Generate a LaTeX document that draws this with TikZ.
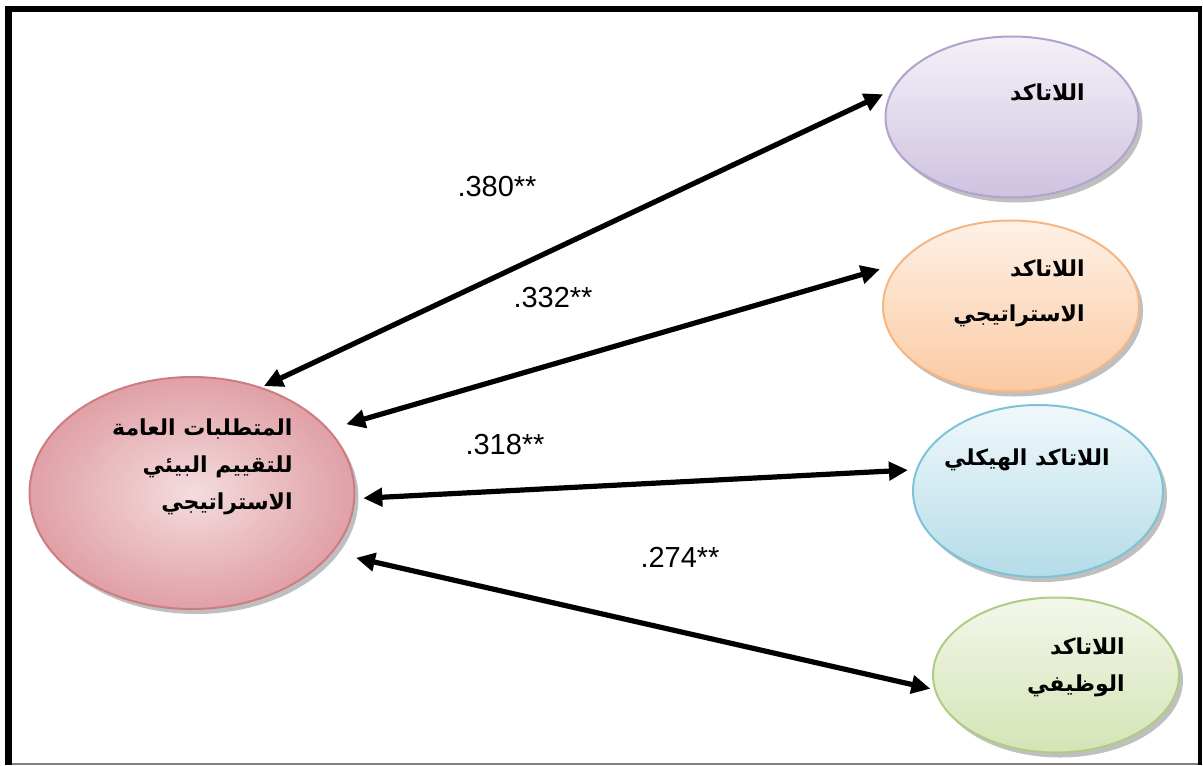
\documentclass[tikz,border=0pt]{standalone}
\usepackage{fontspec}
\setmainfont{Liberation Sans}
\newfontfamily\arabicfont[Script=Arabic]{DejaVu Sans}
\TeXXeTstate=1
\usetikzlibrary{positioning}
\usetikzlibrary{calc}
\usetikzlibrary{shapes.geometric}
\usetikzlibrary{shadows}
\usetikzlibrary{arrows.meta}
\usepackage{color}
\definecolor{pinkline}{RGB}{205,125,130}
\definecolor{pinkdark}{RGB}{224,160,166}
\definecolor{pinklight}{RGB}{244,220,222}
\definecolor{purpleline}{RGB}{178,162,205}
\definecolor{purpletop}{RGB}{244,241,248}
\definecolor{purplebottom}{RGB}{206,194,224}
\definecolor{orangeline}{RGB}{246,182,132}
\definecolor{orangetop}{RGB}{254,241,230}
\definecolor{orangebottom}{RGB}{250,202,162}
\definecolor{blueline}{RGB}{125,195,215}
\definecolor{bluetop}{RGB}{240,248,251}
\definecolor{bluebottom}{RGB}{180,220,232}
\definecolor{greenline}{RGB}{175,205,130}
\definecolor{greentop}{RGB}{243,247,234}
\definecolor{greenbottom}{RGB}{212,228,182}
\newcommand{\rl}[1]{\beginR #1\endR}
\newcommand{\coefsize}{\fontsize{14.5}{17}\selectfont}
\tikzset{
    oval/.style={ellipse, draw, line width=1pt, inner sep=0pt, outer sep=0pt,
        drop shadow={shadow xshift=2pt, shadow yshift=-2.5pt, opacity=.5}},
    general/.style={oval, draw=pinkline, inner color=pinklight, outer color=pinkdark,
        minimum width=162.5pt, minimum height=116pt},
    kind/.style args={#1/#2/#3}{oval, draw=#1, top color=#2, bottom color=#3},
    ar/.style={anchor=east, align=right, inner sep=0pt, font=\arabicfont\bfseries\fontsize{11}{18.5}\selectfont},
    coef/.style={font=\coefsize},
    link/.style={{Triangle[length=9.5pt,width=9pt]}-{Triangle[length=9.5pt,width=9pt]}, line width=2.6pt},
}

\begin{document}
\begin{tikzpicture}[x=0.5pt, y=-0.5pt]
    \useasboundingbox (0,0) rectangle (1203,765);

    \draw[line width=3pt] (5,9) -- (1202,9);
    \draw[line width=3.5pt] (8.5,6) -- (8.5,765);
    \draw[line width=2pt] (1200,6) -- (1200,765);
    \draw[gray, line width=0.8pt] (12,764) -- (1198,764);

    \node[general] (gen) at (192,493) {};
    \node[kind=purpleline/purpletop/purplebottom, minimum width=126.5pt, minimum height=80.5pt] (u1) at (1012,117) {};
    \node[kind=orangeline/orangetop/orangebottom, minimum width=128pt, minimum height=85.5pt] (u2) at (1011,306) {};
    \node[kind=blueline/bluetop/bluebottom, minimum width=125pt, minimum height=86pt] (u3) at (1038,491) {};
    \node[kind=greenline/greentop/greenbottom, minimum width=123pt, minimum height=77.5pt] (u4) at (1056,675) {};

    \node[ar] (gen-text) at (293,467) {\rl{المتطلبات العامة}\\\rl{للتقييم البيئي}\\\rl{الاستراتيجي}};
    \node[ar] (u1-text) at (1085,92) {\rl{اللاتاكد}};
    \node[ar, font=\arabicfont\bfseries\fontsize{11}{22.5}\selectfont] (u2-text) at (1085,293) {\rl{اللاتاكد}\\\rl{الاستراتيجي}};
    \node[ar] (u3-text) at (1110,460) {\rl{اللاتاكد الهيكلي}};
    \node[ar] (u4-text) at (1125,667) {\rl{اللاتاكد}\\\rl{الوظيفي}};

    \draw[link] ($(gen.57)!2pt!(u1.167)$) -- ($(u1.167)!5.5pt!(gen.57)$);
    \draw[link] ($(gen.25)!9.5pt!(u2.159)$) -- ($(u2.159)!10.5pt!(gen.25)$);
    \draw[link] ($(gen.-2)!4.5pt!(u3.170)$) -- ($(u3.170)!4.5pt!(gen.-2)$);
    \draw[link] ($(gen.-23)!12.5pt!(u4.187)$) -- ($(u4.187)!2.5pt!(gen.-23)$);

    \node[coef] (c1) at (497,187) {.380**};
    \node[coef] (c2) at (553,298) {.332**};
    \node[coef] (c3) at (505,445) {.318**};
    \node[coef] (c4) at (680,557) {.274**};
\end{tikzpicture}
\end{document}
